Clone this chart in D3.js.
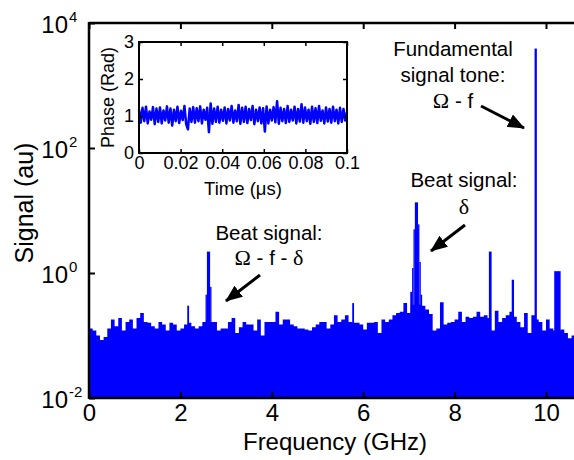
<!DOCTYPE html>
<html lang="en">
<head>
    <meta charset="UTF-8">
    <title>Signal spectrum</title>
    <script src="https://d3js.org/d3.v7.min.js"></script>
    <style>
        body { margin: 0; background: #fff; }
        svg text { font-family: "Liberation Sans", Arial, sans-serif; fill: #000; }
        .serif { font-family: "Liberation Serif", "Times New Roman", serif; }
    </style>
</head>
<body>
    <svg id="chart" width="574" height="460"></svg>

    <script>
        // spectrum noise floor, one value per 0.08 GHz bin starting at 0 GHz
        const binWidth = 0.08;
        const floorSignal = [
            0.13, 0.12, 0.10, 0.085, 0.095, 0.13, 0.18, 0.14, 0.19, 0.12,
            0.165, 0.18, 0.13, 0.19, 0.23, 0.165, 0.16, 0.14, 0.13, 0.165,
            0.15, 0.12, 0.16, 0.15, 0.12, 0.13, 0.15, 0.16, 0.14, 0.13,
            0.14, 0.165, 0.18, 0.165, 0.165, 0.12, 0.13, 0.13, 0.165, 0.19,
            0.11, 0.135, 0.165, 0.15, 0.15, 0.12, 0.18, 0.10, 0.165, 0.165,
            0.165, 0.24, 0.15, 0.18, 0.18, 0.15, 0.14, 0.13, 0.13, 0.125,
            0.12, 0.135, 0.15, 0.165, 0.165, 0.13, 0.15, 0.21, 0.165, 0.18,
            0.21, 0.165, 0.16, 0.16, 0.15, 0.125, 0.16, 0.16, 0.165, 0.11,
            0.18, 0.165, 0.18, 0.21, 0.23, 0.24, 0.33, 0.23, 0.31, 0.31,
            0.31, 0.30, 0.26, 0.22, 0.12, 0.13, 0.34, 0.15, 0.16, 0.165,
            0.18, 0.24, 0.165, 0.20, 0.19, 0.20, 0.24, 0.20, 0.21, 0.19,
            0.12, 0.25, 0.165, 0.19, 0.21, 0.24, 0.20, 0.165, 0.135, 0.23,
            0.11, 0.21, 0.18, 0.165, 0.12, 0.18, 0.13, 0.12, 0.12, 0.125,
            0.11, 0.09, 0.10
        ];

        // narrow lines sitting on the floor: start (GHz), width (GHz), height (au)
        const spikeStart  = [2.15, 2.55, 2.58, 2.65, 5.76, 7.03, 7.07, 7.10, 7.13, 7.20, 7.23, 7.26, 8.75, 9.25, 9.75, 10.18];
        const spikeWidth  = [0.04, 0.03, 0.07, 0.03, 0.04, 0.04, 0.03, 0.03, 0.07, 0.03, 0.03, 0.03, 0.06, 0.05, 0.05, 0.14];
        const spikeSignal = [0.30, 0.45, 2.2, 0.6, 0.33, 0.5, 1.2, 5.0, 13.5, 6.0, 1.5, 0.45, 2.2, 0.78, 3900, 1.07];

        const freqTicks = [0, 2, 4, 6, 8, 10];
        const signalTicks = [1e-2, 1e0, 1e2, 1e4];
        const signalExponents = ["-2", "0", "2", "4"];

        // inset: phase vs time, sampled evenly over 0 - 0.1 us
        const phaseTimeSpan = 0.1;
        const phase = [
            1.18, 0.82, 1.22, 0.86, 1.25, 0.80, 1.12, 0.90, 1.24, 0.78,
            1.20, 0.84, 1.23, 0.80, 1.15, 0.88, 1.26, 0.82, 1.20, 0.74,
            1.17, 0.86, 1.25, 0.81, 1.14, 0.89, 1.27, 0.78, 0.64, 1.20,
            0.84, 1.24, 0.82, 1.21, 0.86, 1.26, 0.80, 1.17, 0.90, 1.22,
            0.56, 1.34, 0.79, 1.20, 0.84, 1.25, 0.82, 1.17, 0.87, 1.23,
            0.80, 1.19, 0.88, 1.27, 0.82, 1.15, 0.86, 1.30, 0.79, 1.22,
            0.84, 1.25, 0.81, 1.19, 0.89, 1.27, 0.78, 1.17, 0.86, 1.23,
            0.80, 1.21, 0.58, 1.26, 0.80, 1.17, 0.88, 1.24, 0.83, 1.40,
            0.79, 1.22, 0.86, 1.19, 0.81, 1.27, 0.84, 1.17, 0.88, 1.25,
            0.80, 1.19, 0.85, 1.32, 0.82, 1.23, 0.86, 1.17, 0.79, 1.25,
            0.84, 1.21, 0.81, 1.27, 0.87, 1.15, 0.80, 1.23, 0.85, 1.19,
            0.82, 1.25, 0.86, 1.17, 0.80, 1.22, 0.84, 1.19, 0.88, 1.10
        ];
        const timeTicks = [0, 0.02, 0.04, 0.06, 0.08, 0.1];
        const phaseTicks = [0, 1, 2, 3];

        const svg = d3.select("#chart");
        const blue = "#0000ff";

        // main scales
        const x = d3.scaleLinear().domain([0, 10]).range([89, 546]);
        const y = d3.scaleLog().domain([1e-2, 1e4]).range([398, 23]);
        const right = 574;

        // noise floor as a stepped area
        const floorPts = floorSignal.map((v, i) => ({f: i * binWidth, v: v}));
        floorPts.push({f: floorSignal.length * binWidth, v: floorSignal[floorSignal.length - 1]});
        const area = d3.area()
            .curve(d3.curveStepAfter)
            .x(d => x(d.f))
            .y0(y(1e-2))
            .y1(d => y(d.v));
        svg.append("path")
           .datum(floorPts)
           .attr("fill", blue)
           .attr("d", area);

        // spikes
        svg.selectAll("rect.spike")
           .data(spikeStart.map((s, i) => ({s: s, w: spikeWidth[i], v: spikeSignal[i]})))
           .enter()
           .append("rect")
           .attr("class", "spike")
           .attr("x", d => x(d.s))
           .attr("width", d => x(d.s + d.w) - x(d.s))
           .attr("y", d => y(d.v))
           .attr("height", d => y(1e-2) - y(d.v))
           .attr("fill", blue);

        // axes (ticks inside, MATLAB style)
        const bottomAxis = svg.append("g")
           .attr("transform", `translate(0,${y(1e-2)})`)
           .call(d3.axisBottom(x).tickValues(freqTicks).tickSizeInner(-6).tickSizeOuter(0).tickPadding(6));
        bottomAxis.selectAll("text").attr("font-size", 24).style("font-family", "Liberation Sans, Arial");

        const topAxis = svg.append("g")
           .attr("transform", `translate(0,${y(1e4)})`)
           .call(d3.axisTop(x).tickValues(freqTicks).tickSizeInner(-6).tickSizeOuter(0).tickFormat(""));

        const leftAxis = svg.append("g")
           .attr("transform", `translate(${x(0)},0)`)
           .call(d3.axisLeft(y).tickValues(signalTicks).tickSizeInner(-6).tickSizeOuter(0).tickFormat(""));

        [bottomAxis, topAxis, leftAxis].forEach(g => {
            g.select(".domain").remove();
            g.selectAll("line").attr("stroke", "#000").attr("stroke-width", 2);
        });

        // frame
        const frame = svg.append("g").attr("stroke", "#000").attr("stroke-width", 2.5).attr("fill", "none");
        frame.append("line").attr("x1", x(0)).attr("x2", right).attr("y1", y(1e4)).attr("y2", y(1e4));
        frame.append("line").attr("x1", x(0)).attr("x2", right).attr("y1", y(1e-2)).attr("y2", y(1e-2));
        frame.append("line").attr("x1", x(0)).attr("x2", x(0)).attr("y1", y(1e4) - 1).attr("y2", y(1e-2) + 1);

        // y tick labels 10^n
        signalTicks.forEach((t, i) => {
            svg.append("text")
               .attr("x", 68)
               .attr("y", y(t) + 10)
               .attr("text-anchor", "end")
               .attr("font-size", 24)
               .text("10");
            svg.append("text")
               .attr("x", 69)
               .attr("y", y(t) - 1)
               .attr("font-size", 15)
               .text(signalExponents[i]);
        });

        // axis titles
        svg.append("text")
           .attr("x", 335)
           .attr("y", 450)
           .attr("text-anchor", "middle")
           .attr("font-size", 24)
           .text("Frequency (GHz)");
        svg.append("text")
           .attr("transform", "translate(33,203) rotate(-90)")
           .attr("text-anchor", "middle")
           .attr("font-size", 25)
           .text("Signal (au)");

        // annotations
        const defs = svg.append("defs");
        defs.append("marker")
            .attr("id", "head")
            .attr("markerUnits", "userSpaceOnUse")
            .attr("markerWidth", 18)
            .attr("markerHeight", 14)
            .attr("refX", 16)
            .attr("refY", 7)
            .attr("orient", "auto")
            .append("path")
            .attr("d", "M0,0 L17,7 L0,14 Z")
            .attr("fill", "#000");

        function label(lines, cx, y0, dy) {
            lines.forEach((ln, i) => {
                const t = svg.append("text")
                   .attr("x", cx)
                   .attr("y", y0 + i * dy)
                   .attr("text-anchor", "middle")
                   .attr("font-size", 20.5);
                ln.forEach(part => {
                    t.append("tspan")
                     .attr("class", part.serif ? "serif" : null)
                     .attr("font-size", part.serif ? 22 : null)
                     .text(part.t);
                });
            });
        }
        function arrow(x1, y1, x2, y2) {
            svg.append("line")
               .attr("x1", x1).attr("y1", y1).attr("x2", x2).attr("y2", y2)
               .attr("stroke", "#000").attr("stroke-width", 3)
               .attr("marker-end", "url(#head)");
        }

        label([[{t: "Fundamental"}], [{t: "signal tone:"}], [{t: "Ω", serif: true}, {t: " - f"}]], 453, 56, 26);
        arrow(481, 106, 524, 128);

        label([[{t: "Beat signal:"}], [{t: "δ", serif: true}]], 464, 187, 27);
        arrow(465, 225, 431, 251);

        label([[{t: "Beat signal:"}], [{t: "Ω", serif: true}, {t: " - f - "}, {t: "δ", serif: true}]], 269, 240, 25);
        arrow(260, 275, 226, 301);

        // inset
        const ix = d3.scaleLinear().domain([0, 0.1]).range([139, 347]);
        const iy = d3.scaleLinear().domain([0, 3]).range([153, 42]);

        svg.append("rect")
           .attr("x", ix(0)).attr("y", iy(3))
           .attr("width", ix(0.1) - ix(0)).attr("height", iy(0) - iy(3))
           .attr("fill", "#fff");

        const line = d3.line()
            .x((d, i) => ix(i * phaseTimeSpan / (phase.length - 1)))
            .y(d => iy(d));
        svg.append("path")
           .datum(phase)
           .attr("fill", "none")
           .attr("stroke", blue)
           .attr("stroke-width", 2.5)
           .attr("stroke-linejoin", "round")
           .attr("d", line);

        const ib = svg.append("g")
           .attr("transform", `translate(0,${iy(0)})`)
           .call(d3.axisBottom(ix).tickValues(timeTicks).tickSizeInner(-4).tickSizeOuter(0).tickPadding(3).tickFormat(d3.format("~g")));
        const it = svg.append("g")
           .attr("transform", `translate(0,${iy(3)})`)
           .call(d3.axisTop(ix).tickValues(timeTicks).tickSizeInner(-4).tickSizeOuter(0).tickFormat(""));
        const il = svg.append("g")
           .attr("transform", `translate(${ix(0)},0)`)
           .call(d3.axisLeft(iy).tickValues(phaseTicks).tickSizeInner(-4).tickSizeOuter(0).tickPadding(5).tickFormat(d3.format("d")));
        const ir = svg.append("g")
           .attr("transform", `translate(${ix(0.1)},0)`)
           .call(d3.axisRight(iy).tickValues(phaseTicks).tickSizeInner(-4).tickSizeOuter(0).tickFormat(""));
        [ib, it, il, ir].forEach(g => {
            g.select(".domain").remove();
            g.selectAll("line").attr("stroke", "#000").attr("stroke-width", 1.5);
            g.selectAll("text").attr("font-size", 18).style("font-family", "Liberation Sans, Arial").attr("fill", "#000");
        });

        svg.append("rect")
           .attr("x", ix(0)).attr("y", iy(3))
           .attr("width", ix(0.1) - ix(0)).attr("height", iy(0) - iy(3))
           .attr("fill", "none")
           .attr("stroke", "#000")
           .attr("stroke-width", 2);

        svg.append("text")
           .attr("x", (ix(0) + ix(0.1)) / 2)
           .attr("y", 195)
           .attr("text-anchor", "middle")
           .attr("font-size", 18.5)
           .text("Time (μs)");
        svg.append("text")
           .attr("transform", `translate(114,${(iy(0) + iy(3)) / 2}) rotate(-90)`)
           .attr("text-anchor", "middle")
           .attr("font-size", 18)
           .text("Phase (Rad)");
    </script>
</body>
</html>
